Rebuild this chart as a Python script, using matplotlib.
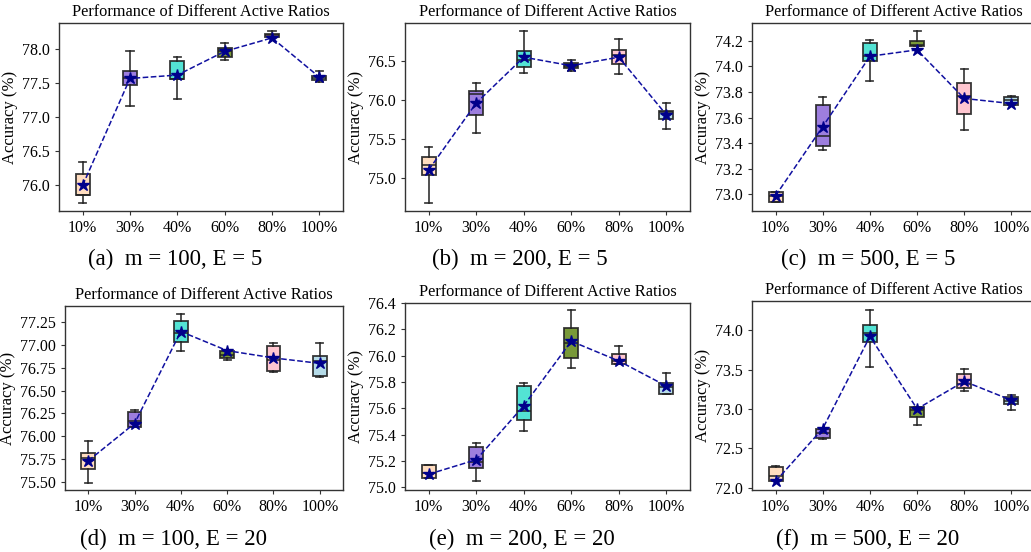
import matplotlib
matplotlib.use("Agg")
import matplotlib.pyplot as plt
from matplotlib.ticker import MultipleLocator

plt.rcParams['font.family'] = ['Liberation Serif', 'DejaVu Serif']

ratios = ['10%', '30%', '40%', '60%', '80%', '100%']
box_colors = ['peachpuff', 'mediumpurple', 'turquoise', 'olivedrab', 'pink', 'lightblue']
captions = ['(a)  m = 100, E = 5', '(b)  m = 200, E = 5', '(c)  m = 500, E = 5',
            '(d)  m = 100, E = 20', '(e)  m = 200, E = 20', '(f)  m = 500, E = 20']
title = 'Performance of Different Active Ratios'

# (a) m=100, E=5
a_lo   = [75.73, 77.16, 77.26, 77.85, 78.18, 77.52]
a_q1   = [75.85, 77.47, 77.56, 77.88, 78.18, 77.55]
a_med  = [75.85, 77.58, 77.56, 77.98, 78.21, 77.58]
a_q3   = [76.16, 77.68, 77.83, 78.02, 78.23, 77.61]
a_hi   = [76.33, 77.97, 77.89, 78.10, 78.27, 77.68]
a_mean = [75.99, 77.57, 77.62, 77.97, 78.17, 77.59]

# (b) m=200, E=5
b_lo   = [74.67, 75.58, 76.35, 76.37, 76.33, 75.63]
b_q1   = [75.03, 75.81, 76.43, 76.41, 76.46, 75.75]
b_med  = [75.16, 76.07, 76.52, 76.44, 76.58, 75.85]
b_q3   = [75.27, 76.12, 76.63, 76.48, 76.64, 75.86]
b_hi   = [75.39, 76.22, 76.89, 76.51, 76.78, 75.96]
b_mean = [75.10, 75.96, 76.55, 76.44, 76.55, 75.81]

# (c) m=500, E=5
c_lo   = [72.94, 73.35, 73.89, 74.16, 73.50, 73.70]
c_q1   = [72.94, 73.38, 74.04, 74.16, 73.63, 73.70]
c_med  = [72.99, 73.46, 74.08, 74.17, 73.77, 73.74]
c_q3   = [73.02, 73.70, 74.18, 74.20, 73.87, 73.76]
c_hi   = [73.02, 73.76, 74.21, 74.28, 73.98, 73.77]
c_mean = [72.99, 73.53, 74.08, 74.13, 73.75, 73.71]

# (d) m=100, E=20
d_lo   = [75.49, 76.10, 76.94, 76.84, 76.70, 76.65]
d_q1   = [75.64, 76.10, 77.03, 76.86, 76.72, 76.66]
d_med  = [75.76, 76.17, 77.13, 76.89, 76.84, 76.83]
d_q3   = [75.82, 76.27, 77.27, 76.94, 76.99, 76.88]
d_hi   = [75.95, 76.29, 77.34, 76.95, 77.02, 77.02]
d_mean = [75.73, 76.14, 77.15, 76.94, 76.86, 76.80]

# (e) m=200, E=20
e_lo   = [75.07, 75.05, 75.43, 75.91, 75.94, 75.71]
e_q1   = [75.07, 75.15, 75.51, 75.98, 75.94, 75.71]
e_med  = [75.11, 75.19, 75.58, 76.10, 75.96, 75.76]
e_q3   = [75.17, 75.31, 75.77, 76.21, 76.01, 75.79]
e_hi   = [75.17, 75.34, 75.79, 76.35, 76.07, 75.87]
e_mean = [75.10, 75.21, 75.62, 76.11, 75.96, 75.77]

# (f) m=500, E=20
f_lo   = [72.08, 72.62, 73.53, 72.79, 73.23, 72.99]
f_q1   = [72.09, 72.63, 73.85, 72.90, 73.26, 73.06]
f_med  = [72.15, 72.69, 73.97, 72.98, 73.32, 73.10]
f_q3   = [72.26, 72.74, 74.06, 73.02, 73.44, 73.15]
f_hi   = [72.28, 72.75, 74.26, 73.03, 73.51, 73.18]
f_mean = [72.08, 72.75, 73.92, 73.00, 73.35, 73.11]

panels = [
    (a_lo, a_q1, a_med, a_q3, a_hi, a_mean),
    (b_lo, b_q1, b_med, b_q3, b_hi, b_mean),
    (c_lo, c_q1, c_med, c_q3, c_hi, c_mean),
    (d_lo, d_q1, d_med, d_q3, d_hi, d_mean),
    (e_lo, e_q1, e_med, e_q3, e_hi, e_mean),
    (f_lo, f_q1, f_med, f_q3, f_hi, f_mean),
]
ylims = [(75.61, 78.39), (74.57, 76.99), (72.87, 74.34),
         (75.41, 77.43), (74.98, 76.40), (71.97, 74.37)]
ysteps = [0.5, 0.5, 0.2, 0.25, 0.2, 0.5]
yfmt = ['%.1f', '%.1f', '%.1f', '%.2f', '%.1f', '%.1f']

W, H = 1031, 552
# axes boxes in pixels: left, right, top, bottom
ax_px = [(59, 343, 23, 211), (405, 690, 23, 211), (752, 1035, 23, 211),
         (65, 343, 306, 490), (405, 690, 303, 490), (752, 1035, 301, 490)]
cap_px = [(175, 259), (520, 259), (868, 259), (173, 539), (522, 539), (868, 539)]

fig = plt.figure(figsize=(W / 100, H / 100), dpi=100)

for i, (lo, q1, med, q3, hi, mean) in enumerate(panels):
    l, r, t, b = ax_px[i]
    ax = fig.add_axes([l / W, 1 - b / H, (r - l) / W, (b - t) / H])
    stats = []
    for j in range(len(ratios)):
        stats.append(dict(whislo=lo[j], q1=q1[j], med=med[j], q3=q3[j],
                          whishi=hi[j], label=ratios[j], fliers=[]))
    pos = list(range(1, len(ratios) + 1))
    bp = ax.bxp(stats, positions=pos, widths=0.3, patch_artist=True,
                showfliers=False,
                boxprops=dict(edgecolor='#222222', linewidth=1.3),
                whiskerprops=dict(color='#222222', linewidth=1.3, alpha=0.85),
                capprops=dict(color='#222222', linewidth=1.3, alpha=0.85),
                medianprops=dict(color='#222222', linewidth=1.1))
    for patch, col in zip(bp['boxes'], box_colors):
        patch.set_facecolor(col)
        patch.set_alpha(0.9)
    ax.plot(pos, mean, linestyle='--', color='#1010a0', linewidth=1.1,
            marker='*', markersize=9, markerfacecolor='darkblue',
            markeredgecolor='darkblue', zorder=5)
    ax.set_xlim(0.5, len(ratios) + 0.5)
    ax.set_ylim(*ylims[i])
    ax.yaxis.set_major_locator(MultipleLocator(ysteps[i]))
    ax.yaxis.set_major_formatter(plt.FormatStrFormatter(yfmt[i]))
    ax.set_xticks(pos)
    ax.set_xticklabels(ratios)
    ax.tick_params(labelsize=11.5, length=3, width=0.8, color='#333333')
    ax.set_ylabel('Accuracy (%)', fontsize=12, labelpad=3)
    ax.set_title(title, fontsize=11.8, pad=5)
    for s in ax.spines.values():
        s.set_color('#333333')
        s.set_linewidth(1.0)
    cx, cy = cap_px[i]
    fig.text(cx / W, 1 - cy / H, captions[i], fontsize=16.5,
             ha='center', va='center')

fig.savefig('out.png', dpi=100)
